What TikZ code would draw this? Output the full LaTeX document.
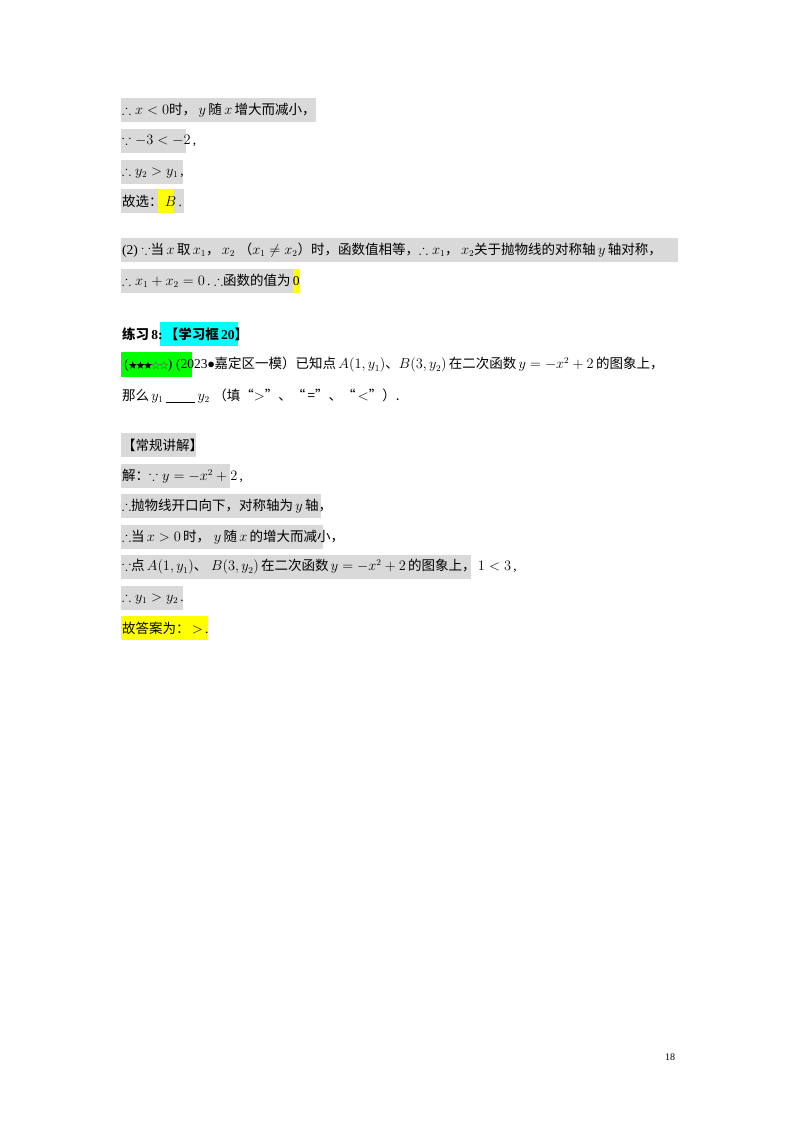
\documentclass[tikz,border=0pt]{standalone}
\usepackage{amssymb}
\usepackage{fontspec}
\usetikzlibrary{shapes.geometric}
\setmainfont{Liberation Serif}
\newfontfamily\cjk{Noto Sans CJK SC}
\newcommand{\zh}[1]{{\cjk #1}}
\definecolor{hlY}{RGB}{255,255,0}
\definecolor{hlC}{RGB}{0,255,255}
\definecolor{hlG}{RGB}{0,255,0}
\newcommand{\fs}{\tikz[baseline=-3.5pt]\node[star,star points=5,star point ratio=2.4,fill=black,inner sep=0pt,minimum size=8pt]{};}
\newcommand{\hs}{\tikz[baseline=-3.5pt]\node[star,star points=5,star point ratio=2.4,draw=black!60,line width=0.4pt,inner sep=0pt,minimum size=8pt]{};}
\begin{document}
\begin{tikzpicture}[x=1pt,y=-1pt,
  gb/.style={fill=black!15,draw=none},
  yb/.style={fill=hlY,draw=none},
  cb/.style={fill=hlC,draw=none},
  grb/.style={fill=hlG,draw=none},
  t/.style={anchor=west,inner sep=0pt,font=\fontsize{13.5}{15}\selectfont}]
\useasboundingbox (0,0) rectangle (800,1132);
% boxes
\fill[gb] (121,98) rectangle (316,122);
\fill[gb] (121,129) rectangle (186,153);
\fill[gb] (121,160) rectangle (183,184);
\fill[gb] (121,189) rectangle (184,213);
\fill[yb] (158,189) rectangle (173,213);
\fill[gb] (121,238) rectangle (678,262);
\fill[gb] (121,269) rectangle (300,293);
\fill[yb] (293,269) rectangle (300,293);
\fill[cb] (160,322) rectangle (238,346);
\fill[grb] (121,352) rectangle (192,377);
\fill[gb] (121,433) rectangle (196,457);
\fill[gb] (121,464) rectangle (230,488);
\fill[gb] (121,494) rectangle (321,518);
\fill[gb] (121,525) rectangle (323,549);
\fill[gb] (121,555) rectangle (471,579);
\fill[gb] (121,586) rectangle (183,610);
\fill[yb] (121,616) rectangle (208,640);
% texts
\node[t] (l1) at (122,110) {$\therefore x<0$\zh{时，}$\,y\,$\zh{随}$\,x\,$\zh{增大而减小，}};
\node[t] (l2) at (122,141) {$\because -3<-2$\,,};
\node[t] (l3) at (122,172) {$\therefore y_2>y_1$\,,};
\node[t] (l4) at (122,201) {\zh{故选：}\,$B$\,.};
\node[t] (l5) at (122,250) {(2)\;$\because$\zh{当}$\,x\,$\zh{取}$\,x_1$\zh{，}$\,x_2$\;\zh{（}$x_1\neq x_2$\zh{）时，函数值相等，}$\therefore x_1$\zh{，}$\,x_2$\zh{关于抛物线的对称轴}$\,y\,$\zh{轴对称，}};
\node[t] (l6) at (122,281) {$\therefore x_1+x_2=0$\,.\;$\therefore$\zh{函数的值为}\,0};
\node[t] (l7) at (122,334) {\zh{\bfseries 练习}\,\textbf{8:}\,\zh{\bfseries 【学习框}\,\textbf{20}\zh{\bfseries 】}};
\node[t] (l8) at (122,365) {\,(\fs\fs\fs\hs\hs)\;(2023$\bullet$\zh{嘉定区一模）已知点}\,$A(1,y_1)$\zh{、}$B(3,y_2)$\,\zh{在二次函数}\,$y=-x^2+2$\,\zh{的图象上，}};
\node[t] (l9) at (122,396) {\zh{那么}\,$y_1$\,\underline{\hspace{2.2em}}\,$y_2$\;\zh{（填“$>$”、“\,=”、“\,$<$”）.}};
\node[t] (l10) at (122,445) {\zh{【常规讲解】}};
\node[t] (l11) at (122,476) {\zh{解：}$\because y=-x^2+2$\,,};
\node[t] (l12) at (122,506) {$\therefore$\zh{抛物线开口向下，对称轴为}\,$y$\,\zh{轴，}};
\node[t] (l13) at (122,537) {$\therefore$\zh{当}\,$x>0$\,\zh{时，}\;$y$\,\zh{随}\,$x$\,\zh{的增大而减小，}};
\node[t] (l14) at (122,567) {$\because$\zh{点}\,$A(1,y_1)$\zh{、}\;$B(3,y_2)$\,\zh{在二次函数}\,$y=-x^2+2$\,\zh{的图象上，}\,$1<3$\,,};
\node[t] (l15) at (122,598) {$\therefore y_1>y_2$\,.};
\node[t] (l16) at (122,628) {\zh{故答案为：}\,$>$\,.};
\node[t,font=\fontsize{10}{12}\selectfont] (pg) at (665,1057) {18};
\end{tikzpicture}
\end{document}
